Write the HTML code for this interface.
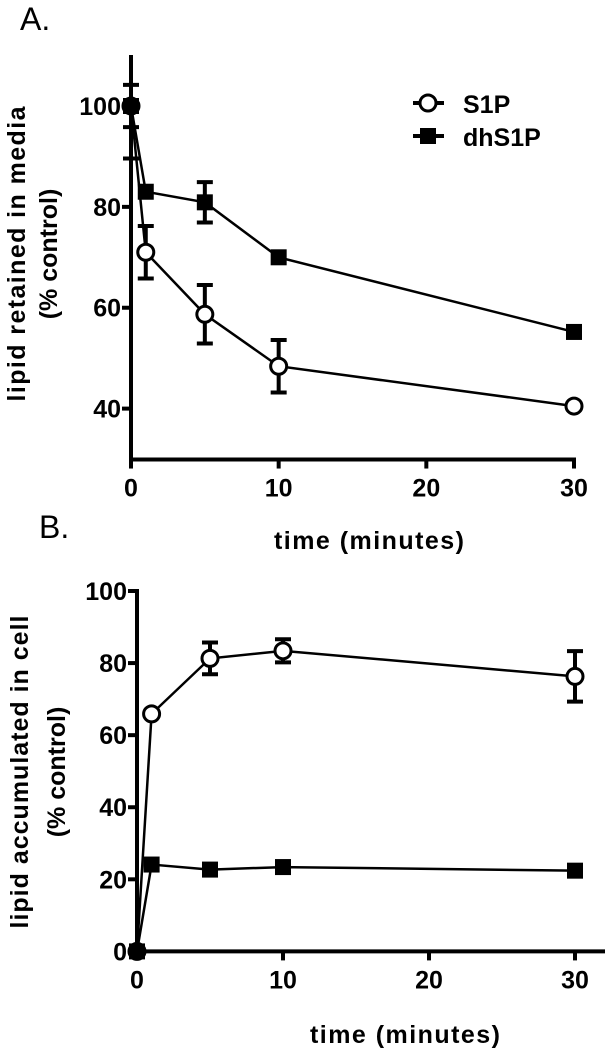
<!DOCTYPE html>
<html><head><meta charset="utf-8"><style>
html,body{margin:0;padding:0;background:#fff;}
svg{display:block;font-family:"Liberation Sans",Arial,sans-serif;}
.t{font-weight:bold;font-size:25px;fill:#000;}
</style></head><body>
<svg id="c" width="605" height="1050" viewBox="0 0 605 1050">
<text x="20" y="30" font-size="32">A.</text>
<text x="39" y="538" font-size="32">B.</text>
<g id="pa"></g>
<g id="pb"></g>
</svg>
<script>
const times=[0,1,5,10,30];
const xTicks=[0,10,20,30];
const aTicks=[40,60,80,100];
const bTicks=[0,20,40,60,80,100];
const aS1P=[100,71,58.7,48.4,40.5];
const aS1PErr=[10.4,5.2,5.8,5.2,0];
const aDh=[100,83,80.9,70,55.2];
const aDhErr=[4.2,0,4,0,0];
const bS1P=[0,65.9,81.3,83.4,76.3];
const bS1PErr=[0,0,4.4,3.2,7];
const bDh=[0,24.1,22.7,23.4,22.4];
const bDhErr=[0,0,0,0,0];
const NS='http://www.w3.org/2000/svg';
function mk(p,tag,at){const e=document.createElementNS(NS,tag);for(const k in at)e.setAttribute(k,at[k]);p.appendChild(e);return e;}
function panel(g,o){
  const X=v=>o.x0+v*(o.x30-o.x0)/30;
  const Y=v=>o.yb+(v-o.ymin)*(o.yt-o.yb)/(o.ymax-o.ymin);
  const base=Y(o.base);
  let ax=mk(g,'line',{x1:X(0),y1:o.axTop,x2:X(0),y2:base+2,stroke:'#000','stroke-width':4});
  
  
  let xa=mk(g,'line',{x1:X(0)-2,y1:base,x2:o.xEnd,y2:base,stroke:'#000','stroke-width':4});
  
  
  o.yTicks.forEach(v=>{
    let l=mk(g,'line',{x1:X(0)-9,y1:Y(v),x2:X(0),y2:Y(v),stroke:'#000','stroke-width':4});
    
    
    let t=mk(g,'text',{x:X(0)-10,y:Y(v)+9,'text-anchor':'end',class:'t'});t.textContent=v;
    
    
  });
  xTicks.forEach(v=>{
    let l=mk(g,'line',{x1:X(v),y1:base,x2:X(v),y2:base+9,stroke:'#000','stroke-width':4});
    
    
    let t=mk(g,'text',{x:X(v),y:base+37,'text-anchor':'middle',class:'t'});t.textContent=v;
    
    
  });
  let xt=mk(g,'text',{x:o.xtX,y:o.xtY,'text-anchor':'middle',class:'t','font-size':26,textLength:190});xt.textContent='time (minutes)';
  
  
  let yt1=mk(g,'text',{x:0,y:0,'text-anchor':'middle',class:'t',textLength:o.ytLen,transform:`translate(${o.yt1x},${o.ytY}) rotate(-90)`});yt1.textContent=o.ytText;
  
  
  let yt2=mk(g,'text',{x:0,y:0,'text-anchor':'middle',class:'t',transform:`translate(${o.yt2x},${o.ytY}) rotate(-90)`});yt2.textContent='(% control)';
  
  
  const series=[[o.dh,o.dhErr,'sq','dhs1p'],[o.s1p,o.s1pErr,'ci','s1p']];
  series.forEach(([vals,errs,shape,nm])=>{
    const pts=times.map((t,i)=>X(t)+','+Y(vals[i])).join(' ');
    let pl=mk(g,'polyline',{points:pts,fill:'none',stroke:'#000','stroke-width':2.5});
    
    
    times.forEach((t,i)=>{
      if(errs[i]>0){
        const x=X(t),yTop=Y(vals[i]+errs[i]),y1=Math.max(yTop,o.axTop),y2=Y(vals[i]-errs[i]);
        let d=`M${x},${y1}V${y2}M${x-8},${y2}H${x+8}`;
        if(yTop>=o.axTop) d+=`M${x-8},${y1}H${x+8}`;
        let e=mk(g,'path',{d:d,stroke:'#000','stroke-width':4,fill:'none'});
        
        
      }
    });
    times.forEach((t,i)=>{
      let m;
      if(shape==='sq') m=mk(g,'rect',{x:X(t)-8,y:Y(vals[i])-8,width:16,height:16,fill:'#000'});
      else m=mk(g,'circle',{cx:X(t),cy:Y(vals[i]),r:8,fill:t===0?'#000':'#fff',stroke:'#000','stroke-width':3});
      
      
    });
  });
}
panel(document.getElementById('pa'),{x0:131,x30:574,xEnd:576,yb:408.6,yt:106,ymin:40,ymax:100,base:29.9,axTop:55,yTicks:aTicks,
  s1p:aS1P,s1pErr:aS1PErr,dh:aDh,dhErr:aDhErr,xtX:369,xtY:549,ytText:'lipid retained in media',ytLen:295,yt1x:25,yt2x:57,ytY:254});
panel(document.getElementById('pb'),{x0:137,x30:575,xEnd:605,yb:951.4,yt:591,ymin:0,ymax:100,base:0,axTop:589,yTicks:bTicks,
  s1p:bS1P,s1pErr:bS1PErr,dh:bDh,dhErr:bDhErr,xtX:405,xtY:1043,ytText:'lipid accumulated in cell',ytLen:313,yt1x:28,yt2x:65,ytY:772});
const lg=document.getElementById('c');
const L=mk(lg,'g',{});


mk(L,'line',{x1:413,y1:103,x2:444,y2:103,stroke:'#000','stroke-width':4});
mk(L,'circle',{cx:428,cy:103,r:8,fill:'#fff',stroke:'#000','stroke-width':3});
let l1=mk(L,'text',{x:463,y:113,class:'t','font-size':26});l1.textContent='S1P';


mk(L,'line',{x1:413,y1:136,x2:444,y2:136,stroke:'#000','stroke-width':4});
mk(L,'rect',{x:420,y:128,width:16,height:16,fill:'#000'});
let l2=mk(L,'text',{x:463,y:146,class:'t','font-size':26});l2.textContent='dhS1P';


</script>
</body></html>
